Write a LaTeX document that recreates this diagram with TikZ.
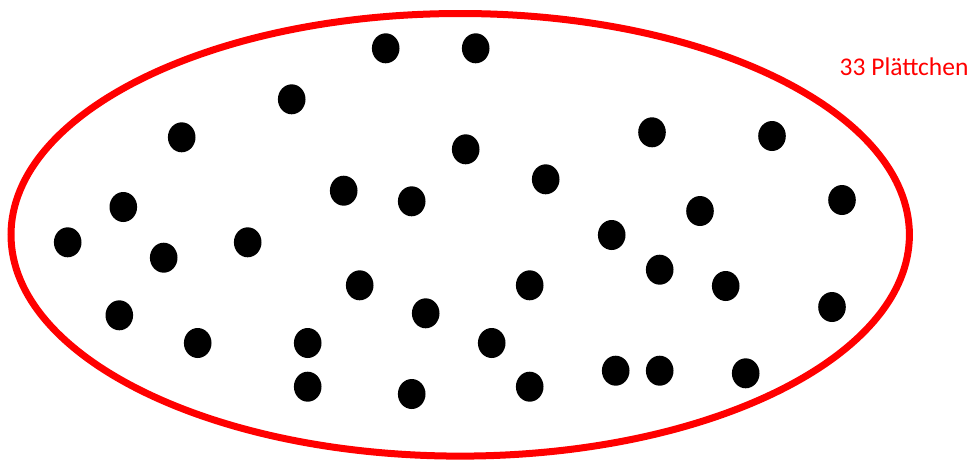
\documentclass[tikz,border=0pt]{standalone}
\usepackage{fontspec}
\setmainfont{Carlito}
\begin{document}
\begin{tikzpicture}[x=1pt,y=-1pt,
  chip/.style={fill=black,draw=none},
  ring/.style={draw={rgb,255:red,255;green,0;blue,0},line width=7pt}]
\useasboundingbox (0,0) rectangle (976,461);
\draw[ring] (460.2,234.8) ellipse [x radius=449.2pt, y radius=221.3pt];
\foreach \p in {
 (385.7,48.3),(475.7,48.3),(291.7,99.3),(181.7,137.3),(465.7,149.3),
 (652,132.3),(772,136),(343.7,190.7),(411.7,201.3),(545.7,179.3),
 (123.3,207),(700,211),(842,200),(67.7,242.3),(163.7,257.7),
 (247.7,242.3),(611.7,235),(659.7,269.7),(359.7,285.3),(529.7,285.3),
 (725.7,286),(119.3,315.3),(425.7,313.3),(832,307),(197.7,343),
 (307.7,343),(491.7,343),(307.7,386.7),(411.7,394),(529.7,386.7),
 (615.7,370.7),(659.7,370.7),(745.7,373.3)}
 \fill[chip] \p ellipse [x radius=13.8pt, y radius=15pt];
\node (label) [anchor=base west, inner sep=0pt, text={rgb,255:red,255;green,0;blue,0}, font=\fontsize{25.5}{30}\selectfont] at (839.5,75.5) {33 Plättchen};
\end{tikzpicture}
\end{document}
